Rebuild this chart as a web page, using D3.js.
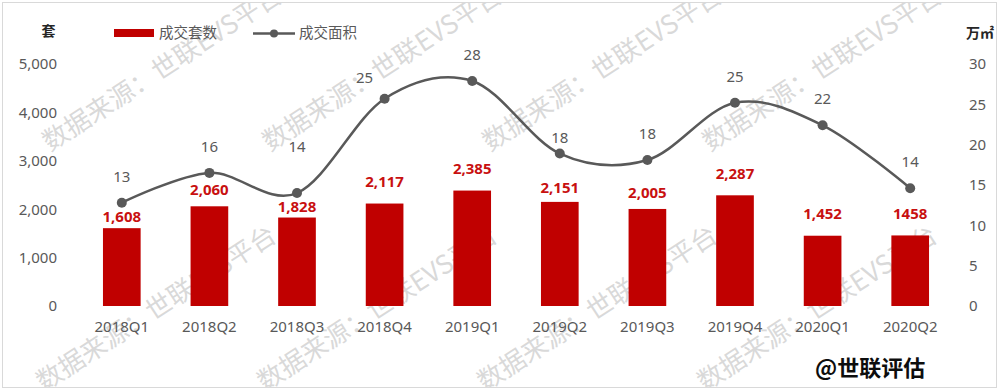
<!DOCTYPE html>
<html>
<head>
<meta charset="utf-8">
<script src="https://cdn.jsdelivr.net/npm/d3@7.9.0/dist/d3.min.js"></script>
<style>
  html, body { margin: 0; padding: 0; background: #fff; }
  svg { display: block; font-family: "Noto Sans", "Noto Sans CJK SC", sans-serif; }
</style>
</head>
<body>
<svg id="chart" width="1000" height="391"></svg>
<script>
// data
const quarters = ['2018Q1', '2018Q2', '2018Q3', '2018Q4', '2019Q1', '2019Q2', '2019Q3', '2019Q4', '2020Q1', '2020Q2'];
const units = [1608, 2060, 1828, 2117, 2385, 2151, 2005, 2287, 1452, 1458];
const unitLabels = ['1,608', '2,060', '1,828', '2,117', '2,385', '2,151', '2,005', '2,287', '1,452', '1458'];
const area = [12.8, 16.5, 14.0, 25.7, 27.9, 18.9, 18.1, 25.2, 22.4, 14.6];
const areaLabels = ['13', '16', '14', '25', '28', '18', '18', '25', '22', '14'];
const leftTicks = [0, 1000, 2000, 3000, 4000, 5000];
const rightTicks = [0, 5, 10, 15, 20, 25, 30];

// hand-placed label offsets from the original (px above the mark)
const barLabelGap = { '2018Q1': 6, '2018Q2': 11, '2018Q3': 6, '2019Q2': 9, '2019Q3': 11 };
const lineLabelGap = { '2018Q3': 41, '2018Q4': 16, '2019Q2': 11 };
const lineLabelDx = { '2018Q4': -20 };

const red = '#c00000';
const grey = '#595959';

const svg = d3.select('#chart');

svg.append('rect')
  .attr('x', 2.5).attr('y', 2.5)
  .attr('width', 994).attr('height', 385)
  .attr('fill', '#fff')
  .attr('stroke', '#d9d9d9');

svg.append('clipPath').attr('id', 'inside')
  .append('rect').attr('x', 3).attr('y', 3).attr('width', 993).attr('height', 384);

// watermark, behind the marks
const wm = svg.append('g').attr('clip-path', 'url(#inside)');
[[50, 152], [270, 152], [490, 152], [710, 152], [44, 392], [265, 392], [485, 392], [705, 392]].forEach(([wx, wy]) => {
  wm.append('text')
    .attr('transform', `translate(${wx},${wy}) rotate(-33)`)
    .attr('font-family', '"Noto Sans CJK SC", sans-serif')
    .attr('font-size', 26)
    .attr('fill', '#cfcfcf')
    .attr('fill-opacity', 0.8)
    .text('数据来源：世联EVS平台');
});

let x = d3.scaleBand()
  .domain(quarters)
  .range([78, 954])
  .paddingInner(0.57)
  .paddingOuter(0.285);

let yLeft = d3.scaleLinear().domain([0, 5000]).range([306, 64]);
let yRight = d3.scaleLinear().domain([0, 30]).range([306, 64]);

// axes (labels only)
const styleAxis = (g) => {
  g.select('.domain').remove();
  g.selectAll('text').attr('fill', grey).attr('font-size', 15)
    .attr('font-family', '"Noto Sans", sans-serif');
};

svg.append('g')
  .attr('transform', 'translate(62,0)')
  .call(d3.axisLeft(yLeft).tickValues(leftTicks).tickSize(0).tickPadding(5).tickFormat(d3.format(',')))
  .call(styleAxis);

svg.append('g')
  .attr('transform', 'translate(964,0)')
  .call(d3.axisRight(yRight).tickValues(rightTicks).tickSize(0).tickPadding(5))
  .call(styleAxis);

svg.append('g')
  .attr('transform', 'translate(0,306)')
  .call(d3.axisBottom(x).tickSize(0).tickPadding(15))
  .call(styleAxis);

// bars
svg.append('g').selectAll('rect')
  .data(quarters)
  .join('rect')
  .attr('x', d => x(d))
  .attr('y', (d, i) => yLeft(units[i]))
  .attr('width', x.bandwidth())
  .attr('height', (d, i) => yLeft(0) - yLeft(units[i]))
  .attr('fill', red);

svg.append('g').selectAll('text')
  .data(quarters)
  .join('text')
  .attr('x', d => x(d) + x.bandwidth() / 2)
  .attr('y', (d, i) => yLeft(units[i]) - (barLabelGap[d] ?? 16.5))
  .attr('text-anchor', 'middle')
  .attr('font-size', 15)
  .attr('font-weight', 'bold')
  .attr('fill', '#c81010')
  .text((d, i) => unitLabels[i]);

// area line
const cx = d => x(d) + x.bandwidth() / 2;
const line = d3.line()
  .x((d, i) => cx(quarters[i]))
  .y(d => yRight(d))
  .curve(d3.curveCatmullRom.alpha(0));

svg.append('path')
  .datum(area)
  .attr('d', line)
  .attr('fill', 'none')
  .attr('stroke', grey)
  .attr('stroke-width', 2.5);

svg.append('g').selectAll('circle')
  .data(area)
  .join('circle')
  .attr('cx', (d, i) => cx(quarters[i]))
  .attr('cy', d => yRight(d))
  .attr('r', 5)
  .attr('fill', grey);

svg.append('g').selectAll('text')
  .data(area)
  .join('text')
  .attr('x', (d, i) => cx(quarters[i]) + (lineLabelDx[quarters[i]] ?? 0))
  .attr('y', (d, i) => yRight(d) - (lineLabelGap[quarters[i]] ?? 21))
  .attr('text-anchor', 'middle')
  .attr('font-size', 15)
  .attr('fill', grey)
  .text((d, i) => areaLabels[i]);

// legend
svg.append('rect').attr('x', 114).attr('y', 29).attr('width', 40).attr('height', 8).attr('fill', red);
svg.append('text').attr('x', 159).attr('y', 38).attr('font-size', 14.5).attr('fill', grey)
  .attr('font-family', '"Noto Sans CJK SC", sans-serif').text('成交套数');
svg.append('line').attr('x1', 253).attr('x2', 295).attr('y1', 33.5).attr('y2', 33.5)
  .attr('stroke', grey).attr('stroke-width', 2.5);
svg.append('circle').attr('cx', 274).attr('cy', 33.5).attr('r', 4).attr('fill', grey);
svg.append('text').attr('x', 299).attr('y', 38).attr('font-size', 14.5).attr('fill', grey)
  .attr('font-family', '"Noto Sans CJK SC", sans-serif').text('成交面积');

// unit titles
svg.append('text').attr('x', 48.5).attr('y', 36).attr('text-anchor', 'middle')
  .attr('font-size', 14).attr('font-weight', 'bold').attr('fill', '#262626')
  .attr('font-family', '"Noto Sans CJK SC", sans-serif').text('套');
svg.append('text').attr('x', 966).attr('y', 38)
  .attr('font-size', 14).attr('font-weight', 'bold').attr('fill', '#262626')
  .attr('font-family', '"Noto Sans CJK SC", sans-serif').text('万㎡');

// signature
svg.append('text').attr('x', 815).attr('y', 376)
  .attr('font-size', 22).attr('font-weight', 'bold').attr('fill', '#0d0d0d')
  .attr('font-family', '"Noto Sans CJK SC", sans-serif').text('@世联评估');
</script>
</body>
</html>
